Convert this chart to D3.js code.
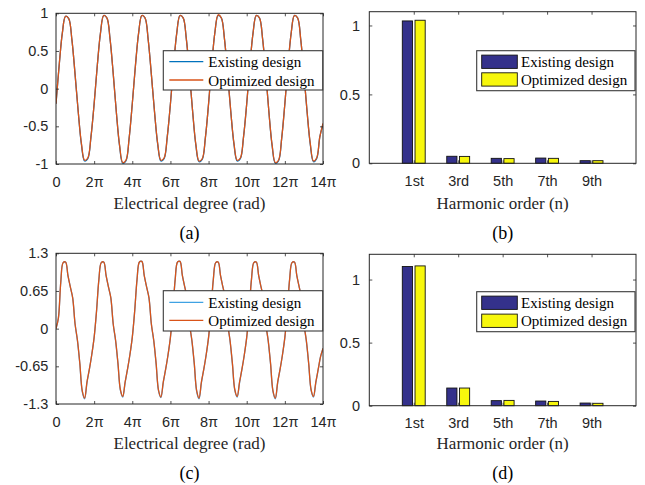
<!DOCTYPE html>
<html><head><meta charset="utf-8">
<script src="https://cdn.jsdelivr.net/npm/d3@7"></script>
<style>body{margin:0;background:#fff} svg{display:block}</style>
</head><body><svg id="chart" width="645" height="485"></svg>
<script>
// ---------------- DATA ----------------
const seriesNames = ["Existing design", "Optimized design"];
const xTickValuesPi = [0, 2, 4, 6, 8, 10, 12, 14];
const xTickLabels = ["0", "2π", "4π", "6π", "8π", "10π", "12π", "14π"];
const yTicksA = [-1, -0.5, 0, 0.5, 1];
const yTickLabelsA = ["-1", "-0.5", "0", "0.5", "1"];
const yTicksC = [-1.3, -0.65, 0, 0.65, 1.3];
const yTickLabelsC = ["-1.3", "-0.65", "0", "0.65", "1.3"];
const samplesPerPeriodA = 12;
const samplesPerPeriodC = 16;

// (a) waveform samples, one every 1/12 of an electrical period
const waveA_existing = [
 -0.20,0.31,0.74,0.96,0.93,0.65,0.19,-0.31,-0.74,-0.96,-0.93,-0.64,
 -0.20,0.31,0.74,0.97,0.94,0.66,0.20,-0.32,-0.76,-0.99,-0.96,-0.66,
 -0.20,0.31,0.74,0.97,0.94,0.65,0.19,-0.31,-0.74,-0.96,-0.93,-0.64,
 -0.20,0.31,0.74,0.97,0.94,0.66,0.20,-0.31,-0.75,-0.97,-0.94,-0.65,
 -0.20,0.32,0.75,0.97,0.94,0.66,0.19,-0.31,-0.74,-0.96,-0.93,-0.64,
 -0.20,0.31,0.74,0.97,0.94,0.66,0.20,-0.32,-0.76,-0.99,-0.96,-0.66,
 -0.20,0.31,0.74,0.97,0.94,0.65,0.19,-0.31,-0.74,-0.97,-0.93,-0.64,
 -0.47];
const waveA_optimized = [
 -0.20,0.31,0.74,0.96,0.93,0.65,0.19,-0.31,-0.73,-0.95,-0.92,-0.64,
 -0.20,0.31,0.74,0.97,0.94,0.66,0.20,-0.32,-0.75,-0.98,-0.95,-0.66,
 -0.20,0.31,0.74,0.97,0.94,0.65,0.19,-0.31,-0.73,-0.95,-0.92,-0.64,
 -0.20,0.31,0.74,0.97,0.94,0.66,0.20,-0.31,-0.74,-0.96,-0.93,-0.65,
 -0.20,0.32,0.75,0.98,0.94,0.66,0.19,-0.31,-0.73,-0.95,-0.92,-0.64,
 -0.20,0.31,0.74,0.97,0.94,0.66,0.20,-0.32,-0.75,-0.98,-0.95,-0.66,
 -0.20,0.31,0.74,0.97,0.94,0.65,0.19,-0.31,-0.73,-0.96,-0.92,-0.64,
 -0.46];

// (c) waveform samples, one every 1/16 of an electrical period
const waveC_existing = [
 0.00,0.18,0.80,1.14,1.15,0.92,0.72,0.53,0.08,-0.21,-0.61,-1.08,-1.21,-0.93,-0.70,-0.45,
 -0.15,0.30,0.85,1.14,1.15,0.92,0.72,0.53,0.08,-0.21,-0.61,-1.06,-1.18,-0.93,-0.70,-0.45,
 -0.15,0.30,0.85,1.15,1.16,0.92,0.72,0.53,0.08,-0.21,-0.61,-1.07,-1.19,-0.93,-0.70,-0.45,
 -0.15,0.30,0.85,1.15,1.16,0.92,0.72,0.53,0.08,-0.21,-0.61,-1.08,-1.21,-0.93,-0.70,-0.45,
 -0.15,0.30,0.85,1.14,1.15,0.92,0.72,0.53,0.08,-0.21,-0.61,-1.06,-1.18,-0.93,-0.70,-0.45,
 -0.15,0.30,0.85,1.14,1.15,0.92,0.72,0.53,0.08,-0.21,-0.61,-1.08,-1.21,-0.93,-0.70,-0.45,
 -0.15,0.30,0.85,1.14,1.15,0.92,0.72,0.53,0.08,-0.21,-0.61,-1.06,-1.18,-0.93,-0.70,-0.48,
 -0.34];
const waveC_optimized = [
 0.00,0.18,0.80,1.14,1.15,0.92,0.72,0.53,0.08,-0.20,-0.60,-1.07,-1.20,-0.92,-0.70,-0.45,
 -0.15,0.30,0.85,1.14,1.15,0.92,0.72,0.53,0.08,-0.20,-0.60,-1.05,-1.17,-0.92,-0.70,-0.45,
 -0.15,0.30,0.85,1.15,1.16,0.92,0.72,0.53,0.08,-0.20,-0.60,-1.06,-1.18,-0.92,-0.70,-0.45,
 -0.15,0.30,0.85,1.15,1.16,0.92,0.72,0.53,0.08,-0.20,-0.60,-1.07,-1.20,-0.92,-0.70,-0.45,
 -0.15,0.30,0.85,1.14,1.15,0.92,0.72,0.53,0.08,-0.20,-0.60,-1.05,-1.17,-0.92,-0.70,-0.45,
 -0.15,0.30,0.85,1.14,1.15,0.92,0.72,0.53,0.08,-0.20,-0.60,-1.07,-1.20,-0.92,-0.70,-0.45,
 -0.15,0.30,0.85,1.14,1.15,0.92,0.72,0.53,0.08,-0.20,-0.60,-1.05,-1.17,-0.92,-0.70,-0.48,
 -0.34];

// harmonic spectra
const harmonicLabels = ["1st", "3rd", "5th", "7th", "9th"];
const harmB_existing  = [1.033, 0.051, 0.036, 0.038, 0.019];
const harmB_optimized = [1.038, 0.050, 0.034, 0.036, 0.019];
const harmD_existing  = [1.103, 0.140, 0.040, 0.037, 0.021];
const harmD_optimized = [1.108, 0.140, 0.042, 0.034, 0.019];
const yTicksBar = [0, 0.5, 1];
const yTickLabelsBar = ["0", "0.5", "1"];

// ---------------- DRAWING ----------------
const svg = d3.select("#chart");
const FONT_TICK = "'Liberation Sans', Arial, Helvetica, sans-serif";
const FONT_TEXT = "'Liberation Serif', 'Times New Roman', serif";
const AXIS = "#262626";

function frame(g, x, y, box, xVals, xFmt, yVals, yFmt, padX, padY) {
  const {L, R, T, B} = box;
  g.append("g").attr("transform", `translate(0,${B})`)
    .call(d3.axisBottom(x).tickValues(xVals).tickFormat(xFmt).tickSizeInner(-3).tickSizeOuter(0).tickPadding(padX));
  g.append("g").attr("transform", `translate(0,${T})`)
    .call(d3.axisTop(x).tickValues(xVals).tickFormat("").tickSizeInner(-3).tickSizeOuter(0));
  g.append("g").attr("transform", `translate(${L},0)`)
    .call(d3.axisLeft(y).tickValues(yVals).tickFormat(yFmt).tickSizeInner(-3).tickSizeOuter(0).tickPadding(padY));
  g.append("g").attr("transform", `translate(${R},0)`)
    .call(d3.axisRight(y).tickValues(yVals).tickFormat("").tickSizeInner(-3).tickSizeOuter(0));
  g.selectAll(".domain").remove();
  g.selectAll(".tick line").attr("stroke", AXIS).attr("stroke-width", 0.8);
  g.selectAll(".tick text").attr("fill", AXIS)
    .style("font-family", FONT_TICK).style("font-size", "14.5px");
  g.append("rect").attr("x", L).attr("y", T).attr("width", R - L).attr("height", B - T)
    .attr("fill", "none").attr("stroke", AXIS).attr("stroke-width", 1);
}

function labels(g, cx, xlabelY, xlabel, subY, sub) {
  g.append("text").attr("x", cx).attr("y", xlabelY).attr("text-anchor", "middle")
    .style("font-family", FONT_TEXT).style("font-size", "17px").attr("fill", AXIS).text(xlabel);
  g.append("text").attr("x", cx).attr("y", subY).attr("text-anchor", "middle")
    .style("font-family", FONT_TEXT).style("font-size", "18px").attr("fill", "#000").text(sub);
}

let clipId = 0;
function linePanel(box, yDomain, yTicks, yLabels, spp, exist, opt, colors, leg, sub, dy) {
  const g = svg.append("g");
  const x = d3.scaleLinear().domain([0, 14 * Math.PI]).range([box.L, box.R]);
  const y = d3.scaleLinear().domain(yDomain).range([box.B, box.T]);
  const id = "clip" + (clipId++);
  g.append("clipPath").attr("id", id).append("rect")
    .attr("x", box.L).attr("y", box.T).attr("width", box.R - box.L).attr("height", box.B - box.T);
  const step = 2 * Math.PI / spp;
  const line = d3.line().x((d, i) => x(i * step)).y(d => y(d)).curve(d3.curveCatmullRom.alpha(0.5));
  const pg = g.append("g").attr("clip-path", `url(#${id})`);
  [exist, opt].forEach((s, k) => {
    pg.append("path").datum(s).attr("d", line).attr("fill", "none")
      .attr("stroke", colors[k]).attr("stroke-width", 1.3).attr("stroke-linejoin", "round");
  });
  frame(g, x, y, box, xTickValuesPi.map(v => v * Math.PI), (d, i) => xTickLabels[i],
        yTicks, (d, i) => yLabels[i], 12.5, 7.7);
  // legend
  const lg = g.append("g");
  lg.append("rect").attr("x", leg.x0).attr("y", leg.y0).attr("width", leg.x1 - leg.x0).attr("height", leg.y1 - leg.y0)
    .attr("fill", "#fff").attr("stroke", "#3a3a3a").attr("stroke-width", 1.1);
  seriesNames.forEach((n, k) => {
    const ly = leg.rows[k];
    lg.append("line").attr("x1", leg.x0 + 6).attr("x2", leg.x0 + 40).attr("y1", ly).attr("y2", ly)
      .attr("stroke", colors[k]).attr("stroke-width", 1.3);
    lg.append("text").attr("x", leg.x0 + 45).attr("y", ly + 5.6)
      .style("font-family", FONT_TEXT).style("font-size", "15px").attr("fill", "#000").text(n);
  });
  labels(g, (box.L + box.R) / 2, 208.7 + dy, "Electrical degree (rad)", 238.5 + dy, sub);
}

function barPanel(box, yMax, exist, opt, leg, sub, dy) {
  const g = svg.append("g");
  const x = d3.scaleLinear().domain([0, harmonicLabels.length + 1]).range([box.L, box.R]);
  const y = d3.scaleLinear().domain([0, yMax]).range([box.B, box.T]);
  const colors = ["#34318b", "#f7f70c"];
  const off = 0.143, w = 0.229;
  [exist, opt].forEach((s, k) => {
    g.append("g").selectAll("rect").data(s).join("rect")
      .attr("x", (d, i) => x(i + 1 + (k === 0 ? -off : off) - w / 2))
      .attr("width", x(w) - x(0))
      .attr("y", d => y(d))
      .attr("height", d => y(0) - y(d))
      .attr("fill", colors[k]).attr("stroke", "#111").attr("stroke-width", 0.9);
  });
  frame(g, x, y, box, harmonicLabels.map((d, i) => i + 1), (d, i) => harmonicLabels[i],
        yTicksBar, (d, i) => yTickLabelsBar[i], 12.5, 9.3);
  const lg = g.append("g");
  lg.append("rect").attr("x", leg.x0).attr("y", leg.y0).attr("width", leg.x1 - leg.x0).attr("height", leg.y1 - leg.y0)
    .attr("fill", "#fff").attr("stroke", "#3a3a3a").attr("stroke-width", 1.1);
  seriesNames.forEach((n, k) => {
    const ly = leg.rows[k];
    lg.append("rect").attr("x", leg.x0 + 5).attr("y", ly - 6.6).attr("width", 35.6).attr("height", 13.3)
      .attr("fill", colors[k]).attr("stroke", "#111").attr("stroke-width", 0.9);
    lg.append("text").attr("x", leg.x0 + 44.3).attr("y", ly + 5.6)
      .style("font-family", FONT_TEXT).style("font-size", "15px").attr("fill", "#000").text(n);
  });
  labels(g, (box.L + box.R) / 2, 208.7 + dy, "Harmonic order (n)", 238.5 + dy, sub);
}

linePanel({L: 56, R: 323, T: 13.3, B: 164}, [-1, 1], yTicksA, yTickLabelsA, samplesPerPeriodA,
  waveA_existing, waveA_optimized, ["#0072bd", "#d95319"],
  {x0: 163.3, x1: 322.7, y0: 50.7, y1: 90, rows: [61.7, 80]}, "(a)", 0);

linePanel({L: 56, R: 323, T: 253.3, B: 404}, [-1.3, 1.3], yTicksC, yTickLabelsC, samplesPerPeriodC,
  waveC_existing, waveC_optimized, ["#3fa2e3", "#d95319"],
  {x0: 163.3, x1: 322.7, y0: 290.7, y1: 331, rows: [302.3, 320.3]}, "(c)", 240);

barPanel({L: 369.3, R: 636, T: 11.7, B: 163.3}, 1.1, harmB_existing, harmB_optimized,
  {x0: 476.7, x1: 635, y0: 50.7, y1: 90.7, rows: [61.7, 79.4]}, "(b)", 0);

barPanel({L: 369.3, R: 636, T: 254.3, B: 405.7}, 1.2, harmD_existing, harmD_optimized,
  {x0: 476.7, x1: 635, y0: 291.7, y1: 331.7, rows: [302.7, 320.7]}, "(d)", 240);
</script>
</body></html>
